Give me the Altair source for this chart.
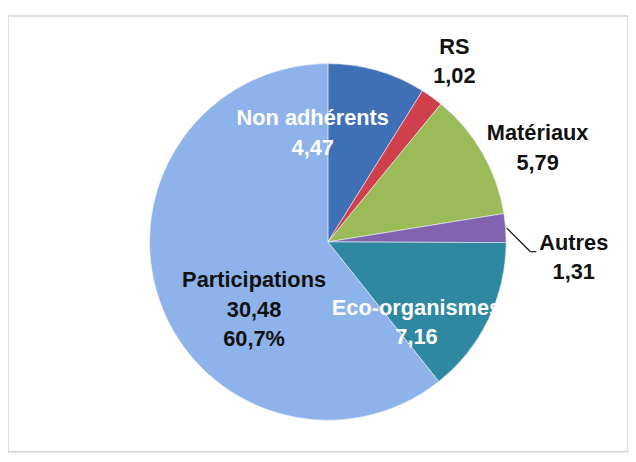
import altair as alt
import pandas as pd

# ---- data ----
categories = ["Non adhérents", "RS", "Matériaux", "Autres", "Eco-organismes", "Participations"]
values = [4.47, 1.02, 5.79, 1.31, 7.16, 30.48]
value_labels = ["4,47", "1,02", "5,79", "1,31", "7,16", "30,48"]
extra_labels = ["", "", "", "", "", "60,7%"]

# ---- styles ----
colors = ["#3f6fb4", "#d0404c", "#9bbb59", "#8064b0", "#2e88a2", "#8db3ea"]
label_colors = ["#ffffff", "#111111", "#111111", "#111111", "#ffffff", "#111111"]
label_layout = {
    "Non adhérents": dict(radius=115, dx=-47, dy=-14),
    "RS": dict(radius=224, dx=-3, dy=-15),
    "Matériaux": dict(radius=242, dx=2, dy=11),
    "Autres": dict(radius=247, dx=2, dy=20),
    "Eco-organismes": dict(radius=125, dx=-23, dy=12),
    "Participations": dict(radius=80, dx=1, dy=12),
}
CX, CY, R = 323, 228, 180
FONT = "Liberation Sans"

labels = []
for c, v, e in zip(categories, value_labels, extra_labels):
    labels.append(c + "\n" + v + ("\n" + e if e else ""))

df = pd.DataFrame({
    "cat": categories,
    "value": values,
    "label": labels,
    "order": list(range(len(categories))),
})

base = alt.Chart(df)

pie = base.mark_arc(outerRadius=R, stroke="#e8eef8", strokeWidth=0.6).encode(
    theta=alt.Theta("value:Q", stack=True),
    color=alt.Color("cat:N", scale=alt.Scale(domain=categories, range=colors), legend=None),
    order=alt.Order("order:Q"),
    x=alt.value(CX),
    y=alt.value(CY),
)

stacked = base.transform_window(
    cum="sum(value)", sort=[alt.SortField("order")], frame=[None, 0]
).transform_joinaggregate(total="sum(value)").transform_calculate(
    mid="datum.cum - datum.value / 2"
)

layers = [pie]
for c, col in zip(categories, label_colors):
    lay = label_layout[c]
    t = stacked.transform_filter(alt.datum.cat == c).mark_text(
        radius=lay["radius"], dx=lay["dx"], dy=lay["dy"],
        font=FONT, fontSize=22, fontWeight="bold", color=col,
        lineBreak="\n", lineHeight=30, align="center", baseline="middle",
    ).encode(
        theta=alt.Theta("mid:Q", stack=None),
        text="label:N",
        x=alt.value(CX),
        y=alt.value(CY),
    )
    layers.append(t)

leader_src = stacked.transform_filter(alt.datum.cat == "Autres").transform_calculate(
    ang="2 * PI * datum.mid / datum.total",
).transform_calculate(
    x1=f"{CX} + {R + 1} * sin(datum.ang)",
    y1=f"{CY} - {R + 1} * cos(datum.ang)",
).transform_calculate(
    x2="datum.x1 + 24", y2="datum.y1 + 24", x3="datum.x1 + 30",
)
leader1 = leader_src.mark_rule(color="#111111", strokeWidth=1.2).encode(
    x=alt.X("x1:Q", scale=None), y=alt.Y("y1:Q", scale=None),
    x2="x2:Q", y2="y2:Q",
)
leader2 = leader_src.mark_rule(color="#111111", strokeWidth=1.2).encode(
    x=alt.X("x2:Q", scale=None), y=alt.Y("y2:Q", scale=None),
    x2="x3:Q", y2="y2:Q",
)
layers += [leader1, leader2]

chart = alt.layer(*layers).properties(
    width=626, height=440,
    padding={"left": 0, "top": 6, "right": 0, "bottom": 0},
    autosize=alt.AutoSizeParams(type="none"),
    background="white",
).configure_view(stroke="#d4d4d4", strokeWidth=1.5)

chart.save("out.html", embed_options={"renderer": "svg", "actions": False})
